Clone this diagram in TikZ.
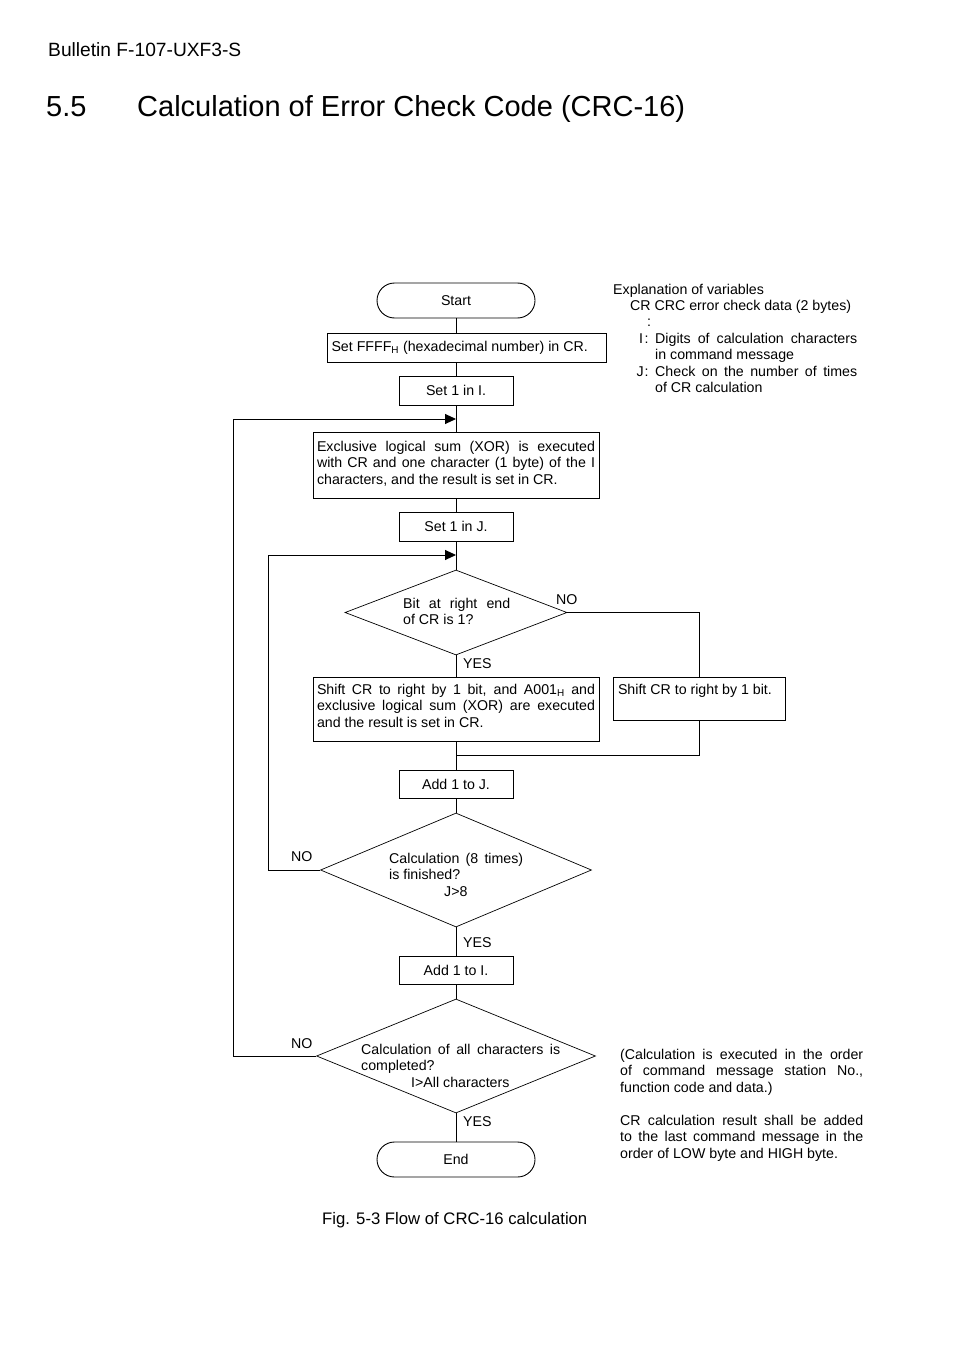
\documentclass[tikz,border=0pt]{standalone}
\usepackage{fontspec}
\setmainfont{Liberation Sans}
\usetikzlibrary{arrows.meta,shapes.geometric}
\newcommand\fs{\fontsize{14.2}{16.5}\selectfont}
\newcommand\jl[1]{\makebox[\linewidth][s]{#1}}
\newcommand\tbx[4]{\parbox[c][#2][t]{#1}{\rule{0pt}{#3}#4}}
\begin{document}
\begin{tikzpicture}[x=1pt,y=-1pt,font=\fs,
  ln/.style={line width=0.9pt},
  arr/.style={line width=0.9pt,-{Triangle[length=11pt,width=10pt]}},
  box/.style={draw,line width=0.9pt,inner sep=0pt},
  sbox/.style={box,minimum width=114pt,minimum height=29pt,text height=10.2pt,text depth=0pt},
  term/.style={draw,line width=0.9pt,rounded corners=17.5pt,minimum width=158pt,minimum height=35pt,inner sep=0pt,text height=10.2pt,text depth=0pt},
  dec/.style={draw,diamond,line width=0.7pt,inner sep=0pt},
  lbl/.style={inner sep=0pt,anchor=base west}]
\fill[white] (0,0) rectangle (954,1351);
\useasboundingbox (0,0) rectangle (954,1351);

% header and title
\node[lbl,font=\fontsize{19.2}{22}\selectfont] (hdr) at (48,57) {Bulletin F-107-UXF3-S};
\node[lbl,font=\fontsize{29}{34}\selectfont] (secno) at (46,117) {5.5};
\node[lbl,font=\fontsize{29}{34}\selectfont] (title) at (137,117) {Calculation of Error Check Code (CRC-16)};

% flow nodes
\node[term] (start) at (456,300.5) {Start};
\node[box,minimum width=279pt,minimum height=29pt] (ffff) at (466.5,347.5)
  {\parbox{270pt}{Set FFFF\textsubscript{H} (hexadecimal number) in CR.}};
\node[sbox] (seti) at (456,390.5) {Set 1 in I.};
\node[box,minimum width=286pt,minimum height=66pt] (xor) at (456,465)
  {\tbx{278pt}{66pt}{19pt}{\jl{Exclusive logical sum (XOR) is executed}\par
   \jl{with CR and one character (1 byte) of the I}\par
   characters, and the result is set in CR.}};
\node[sbox] (setj) at (456,526.5) {Set 1 in J.};
\node[dec,minimum width=222pt,minimum height=85pt] (d1) at (456,612.5) {};
\node[box,minimum width=286pt,minimum height=64pt] (shl) at (456,709)
  {\tbx{278pt}{64pt}{17pt}{\jl{Shift CR to right by 1 bit, and A001\textsubscript{H} and}\par
   \jl{exclusive logical sum (XOR) are executed}\par
   and the result is set in CR.}};
\node[box,minimum width=172pt,minimum height=43pt] (shr) at (699,698.5)
  {\tbx{162pt}{43pt}{17pt}{Shift CR to right by 1 bit.}};
\node[box,minimum width=114pt,minimum height=28pt,text height=10.2pt,text depth=0pt] (addj) at (456,784) {Add 1 to J.};
\node[dec,minimum width=271pt,minimum height=114pt] (d2) at (456,870) {};
\node[box,minimum width=114pt,minimum height=28pt,text height=10.2pt,text depth=0pt] (addi) at (456,970) {Add 1 to I.};
\node[dec,minimum width=279pt,minimum height=114pt] (d3) at (456,1056) {};
\node[term] (end) at (456,1159.5) {End};

% diamond texts
\node[lbl] (d1t) at (403,608) {\parbox[t]{107pt}{\jl{Bit at right end}\par of CR is 1?}};
\node[lbl] (d2t) at (389,863) {\parbox[t]{134pt}{\jl{Calculation (8 times)}\par is finished?\par\hspace*{55pt}J>8}};
\node[lbl] (d3t) at (361,1054) {\parbox[t]{199pt}{\jl{Calculation of all characters is}\par completed?\par\hspace*{50pt}I>All characters}};

% branch labels
\node[lbl] (no1) at (556,604) {NO};
\node[lbl] (yes1) at (463,668) {YES};
\node[lbl] (no2) at (291,861) {NO};
\node[lbl] (yes2) at (463,947) {YES};
\node[lbl] (no3) at (291,1048) {NO};
\node[lbl] (yes3) at (463,1126) {YES};

% junction points
\coordinate (m1) at (456,419);
\coordinate (m2) at (456,555);
\coordinate (m3) at (456,755);

% connectors
\draw[ln] (start.south) -- (start.south |- ffff.north);
\draw[ln] (seti.north |- ffff.south) -- (seti.north);
\draw[ln] (seti) -- (xor);
\draw[ln] (xor) -- (setj);
\draw[ln] (setj) -- (d1);
\draw[ln] (d1) -- (shl);
\draw[ln] (shl) -- (addj);
\draw[ln] (d1.east) -| (shr.north);
\draw[ln] (shr.south) |- (m3);
\draw[ln] (addj) -- (d2);
\draw[ln] (d2) -- (addi);
\draw[ln] (addi) -- (d3);
\draw[ln] (d3) -- (end);
\draw[arr] (d2.west) -- ++(-51.5,0) |- (m2);
\draw[arr] (d3.west) -- ++(-82.5,0) |- (m1);

% explanation of variables
\node[lbl] (ex0) at (613,294) {Explanation of variables};
\node[lbl] (ex1) at (630,310) {CR CRC error check data (2 bytes)};
\node[lbl] (ex2) at (647,326) {:};
\node[lbl] (exi) at (638.8,343) {I};
\node[lbl] (exic) at (644.4,343) {:};
\node[lbl] (exit) at (655,343) {\parbox[t]{202pt}{\jl{Digits of calculation characters}\par in command message}};
\node[lbl] (exj) at (636.3,376) {J};
\node[lbl] (exjc) at (644.4,376) {:};
\node[lbl] (exjt) at (655,376) {\parbox[t]{202pt}{\jl{Check on the number of times}\par of CR calculation}};

% notes
\node[lbl] (note) at (620,1059) {\parbox[t]{243pt}{\jl{(Calculation is executed in the order}\par
  \jl{of command message station No.,}\par
  function code and data.)\par\mbox{}\par
  \jl{CR calculation result shall be added}\par
  \jl{to the last command message in the}\par
  order of LOW byte and HIGH byte.}};

% caption
\node[lbl,font=\fontsize{16.7}{19}\selectfont] (cap) at (322,1224) {Fig. 5-3 Flow of CRC-16 calculation};
\end{tikzpicture}
\end{document}
